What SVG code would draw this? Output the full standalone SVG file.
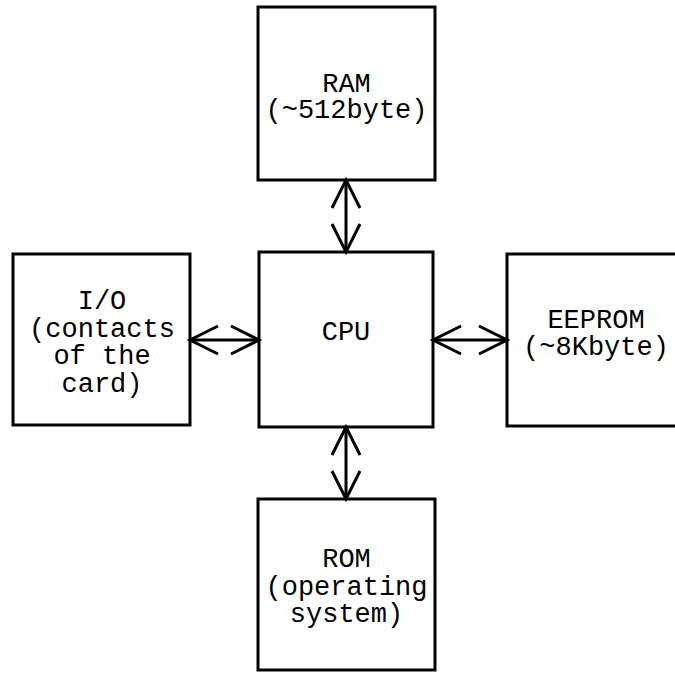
<svg xmlns="http://www.w3.org/2000/svg" width="675" height="673" viewBox="0 0 675 673">
<defs>
<style>
.box{fill:#fff;stroke:#000;stroke-width:3}
.lbl{font-family:"Liberation Mono","Courier New",monospace;font-size:27px;fill:#000;text-anchor:middle}
.conn{stroke:#000;stroke-width:3;fill:none;marker-start:url(#ah);marker-end:url(#ah)}
</style>
<marker id="ah" viewBox="0 0 30 30" refX="28" refY="15" markerUnits="userSpaceOnUse" markerWidth="30" markerHeight="30" orient="auto-start-reverse" overflow="visible">
<path d="M0,1 L28,15 L0,29" fill="none" stroke="#000" stroke-width="3"/>
</marker>
</defs>
<rect width="675" height="673" fill="#fff"/>
<g id="ram">
<rect class="box" x="258" y="7" width="177" height="173"/>
<text class="lbl" x="346.5" y="92">RAM</text>
<text class="lbl" x="346.5" y="118">(~512byte)</text>
</g>
<g id="cpu">
<rect class="box" x="259" y="252" width="174" height="175"/>
<text class="lbl" x="346" y="340">CPU</text>
</g>
<g id="io">
<rect class="box" x="13" y="254" width="177" height="171"/>
<text class="lbl" x="102" y="309">I/O</text>
<text class="lbl" x="102" y="337">(contacts</text>
<text class="lbl" x="102" y="364">of the</text>
<text class="lbl" x="102" y="392">card)</text>
</g>
<g id="eeprom">
<rect class="box" x="507" y="254" width="178" height="172"/>
<text class="lbl" x="596" y="328">EEPROM</text>
<text class="lbl" x="596" y="355">(~8Kbyte)</text>
</g>
<g id="rom">
<rect class="box" x="258" y="499" width="177" height="171"/>
<text class="lbl" x="346.5" y="567">ROM</text>
<text class="lbl" x="346.5" y="595">(operating</text>
<text class="lbl" x="346.5" y="622">system)</text>
</g>
<g id="connectors">
<line class="conn" x1="346" y1="180" x2="346" y2="252"/>
<line class="conn" x1="190" y1="340" x2="259" y2="340"/>
<line class="conn" x1="433" y1="340" x2="507" y2="340"/>
<line class="conn" x1="346" y1="427" x2="346" y2="499"/>
</g>
</svg>
